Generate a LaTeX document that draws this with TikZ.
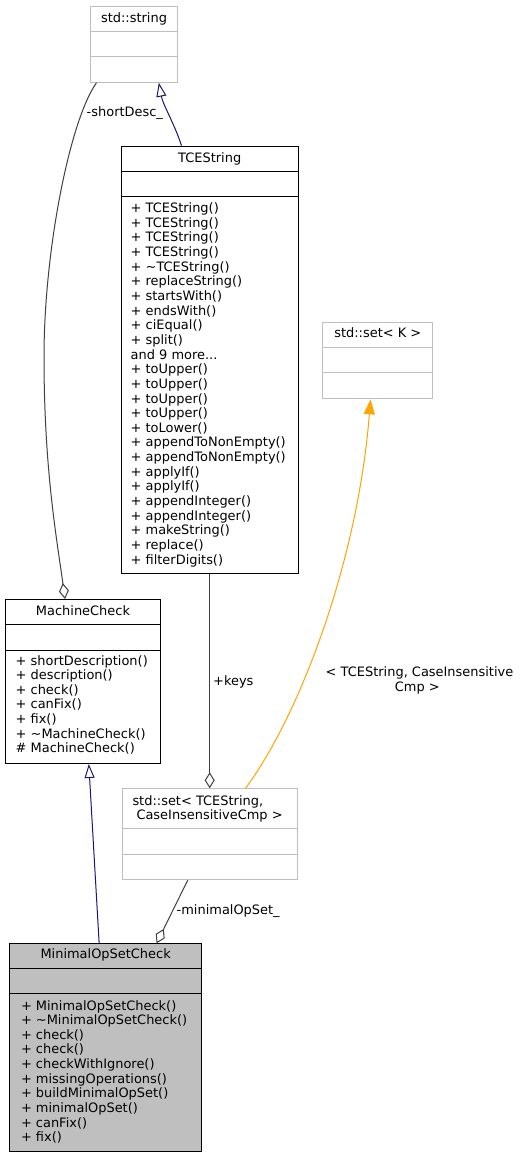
\documentclass[tikz,border=0pt]{standalone}
\usepackage{fontspec}
\setmainfont{DejaVu Sans}
\usetikzlibrary{arrows.meta}
\definecolor{edgegray}{HTML}{404040}
\definecolor{inhblue}{HTML}{191970}
\definecolor{tmplorange}{HTML}{FFA500}
\definecolor{boxgray}{HTML}{BFBFBF}
\newcommand\umlfont{\fontsize{12.95}{14.64}\selectfont}
\tikzset{
  cls/.style={draw=black, line width=1pt, rectangle, anchor=north west, inner sep=0pt},
  extcls/.style={cls, draw=boxgray},
  title/.style={anchor=base, inner sep=0pt, font=\umlfont},
  member/.style={anchor=base west, inner sep=0pt, font=\umlfont},
  lbl/.style={anchor=base west, inner sep=0pt, font=\umlfont},
  inherit/.style={draw=inhblue, line width=1pt, -{Triangle[open, length=14pt, width=10pt]}},
  usage/.style={draw=edgegray, line width=1pt, -{Diamond[open, length=16pt, width=10pt]}},
  tmpl/.style={draw=tmplorange, line width=1pt, -{Triangle[length=15pt, width=11pt]}}
}
\def\linesep{14.64}

\begin{document}
\begin{tikzpicture}[x=1pt, y=-1pt]
  \fill[white] (0,0) rectangle (520,1157);
  \useasboundingbox (0,0) rectangle (520,1157);

  % class boxes
  \node[extcls, minimum width=87pt, minimum height=76pt] (strg) at (90,5.7) {};
  \node[cls, minimum width=177pt, minimum height=427.6pt] (tce) at (120.7,145.7) {};
  \node[extcls, minimum width=110pt, minimum height=76.6pt] (sk) at (322.3,321.7) {};
  \node[cls, minimum width=155pt, minimum height=164pt] (mc) at (5,599) {};
  \node[extcls, minimum width=175pt, minimum height=90.7pt] (sset) at (121.7,788.3) {};
  \node[cls, fill=boxgray, minimum width=191.7pt, minimum height=207.7pt] (mos) at (9.3,943.3) {};

  \foreach \n/\d in {strg/31.7, strg/56.7, sk/347.3, sk/372.3, sset/828.7, sset/854}
  \draw[boxgray, line width=1pt] (\n.west |- 0,\d) -- (\n.east |- 0,\d);
  \foreach \n/\d in {tce/171.3, tce/196.7, mc/624.3, mc/650, mos/968.3, mos/993.7}
  \draw[black, line width=1pt] (\n.west |- 0,\d) -- (\n.east |- 0,\d);

  % titles
  \node[title] (strgt) at (strg.north |- 0,22.5) {std::string};
  \node[title] (tcet) at (tce.north |- 0,162.3) {TCEString};
  \node[title] (skt) at (sk.north |- 0,337.7) {std::set< K >};
  \node[title] (mct) at (mc.north |- 0,615) {MachineCheck};
  \node[member] (ssett1) at (132.3,805.5) {std::set< TCEString,};
  \node[member] (ssett2) at (136.3,819) {CaseInsensitiveCmp >};
  \node[title] (most) at (mos.north |- 0,958.3) {MinimalOpSetCheck};

  % members
  \foreach \m [count=\i from 0] in {+ TCEString(), + TCEString(), + TCEString(), + TCEString(),
      + \textasciitilde TCEString(), + replaceString(), + startsWith(), + endsWith(),
      + ciEqual(), + split(), {and 9 more{.}{.}{.}}, + toUpper(), + toUpper(), + toUpper(),
      + toUpper(), + toLower(), + appendToNonEmpty(), + appendToNonEmpty(), + applyIf(),
      + applyIf(), + appendInteger(), + appendInteger(), + makeString(), + replace(),
      + filterDigits()}
  \node[member] (tcem\i) at (130.5, 212.7+\i*\linesep) {\m};

  \foreach \m [count=\i from 0] in {+ shortDescription(), + description(), + check(),
      + canFix(), + fix(), + \textasciitilde MachineCheck(), \# MachineCheck()}
  \node[member] (mcm\i) at (15.5, 665+\i*\linesep) {\m};

  \foreach \m [count=\i from 0] in {+ MinimalOpSetCheck(), + \textasciitilde MinimalOpSetCheck(),
      + check(), + check(), + checkWithIgnore(), + missingOperations(),
      + buildMinimalOpSet(), + minimalOpSet(), + canFix(), + fix()}
  \node[member] (mosm\i) at (20.8, 1010+\i*\linesep) {\m};

  % relations
  \coordinate (sdbend) at (44,357);
  \draw[inherit] ([xshift=-28.2pt]tce.north) .. controls (175,125) and (163,105) .. ([xshift=24.8pt]strg.south);
  \draw[usage] ([xshift=-37.5pt]strg.south) .. controls (70,120) and (44,250) .. (sdbend)
    .. controls (44,470) and (57,540) .. ([xshift=-18pt]mc.north);
  \draw[inherit] ([xshift=-6.5pt]mos.north) -- ([xshift=5.8pt]mc.south);
  \draw[usage] (tce.south) -- (sset.north);
  \draw[usage] ([xshift=-21.9pt]sset.south) -- ([xshift=51pt]mos.north);
  \draw[tmpl] ([xshift=35.8pt]sset.north) .. controls (300,715) and (358,560) .. ([xshift=-7.3pt]sk.south);

  % labels
  \node[lbl] (lsd) at (86.5,116.7) {-shortDesc\_};
  \node[lbl] (lkeys) at (213,685) {+keys};
  \node[title] (ltmpl1) at (419.5,676.7) {< TCEString, CaseInsensitive};
  \node[title] (ltmpl2) at (417.3,691.5) {Cmp >};
  \node[lbl] (lmos) at (176.5,914) {-minimalOpSet\_};
\end{tikzpicture}
\end{document}
